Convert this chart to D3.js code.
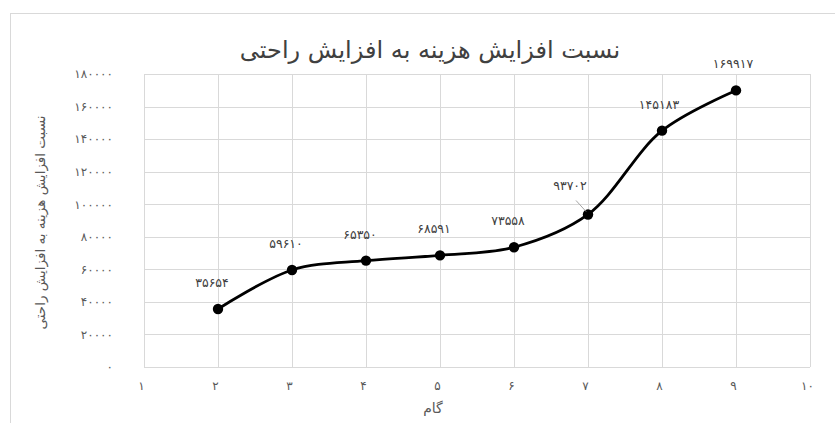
<!DOCTYPE html>
<html><head><meta charset="utf-8">
<script src="https://cdn.jsdelivr.net/npm/d3@7"></script>
<style>
html,body{margin:0;padding:0;background:#fff;}
svg{display:block;}
text{font-family:"DejaVu Sans",sans-serif;}
</style></head>
<body>
<svg id="c" width="835" height="423"></svg>
<script>
const titleText = "نسبت افزایش هزینه به افزایش راحتی";
const yAxisTitle = "نسبت افزایش هزینه به افزایش راحتی";
const xAxisTitle = "گام";
const steps = [2, 3, 4, 5, 6, 7, 8, 9];
const values = [35654, 59610, 65350, 68591, 73558, 93702, 145183, 169917];
const xTicks = [1, 2, 3, 4, 5, 6, 7, 8, 9, 10];
const yTicks = [0, 20000, 40000, 60000, 80000, 100000, 120000, 140000, 160000, 180000];

const fa = n => String(n).replace(/\d/g, d => "۰۱۲۳۴۵۶۷۸۹"[+d]);

const svg = d3.select("#c");
const W = 835, H = 423;
const m = {left: 144, right: 25, top: 74, bottom: 56};
const x = d3.scaleLinear().domain([1, 10]).range([m.left, W - m.right]);
const y = d3.scaleLinear().domain([0, 180000]).range([H - m.bottom, m.top]);

// outer chart border
svg.append("rect").attr("x", 10.5).attr("y", 13.5).attr("width", 840).attr("height", 430)
  .attr("fill", "none").attr("stroke", "#d9d9d9");

const grid = svg.append("g");
grid.selectAll("line.h").data(yTicks).join("line")
  .attr("x1", x(1)).attr("x2", x(10))
  .attr("y1", d => Math.round(y(d)) + 0.5).attr("y2", d => Math.round(y(d)) + 0.5)
  .attr("stroke", "#d9d9d9").attr("stroke-width", 1);
grid.selectAll("line.v").data(xTicks).join("line")
  .attr("y1", y(0)).attr("y2", y(180000))
  .attr("x1", d => Math.round(x(d)) + 0.5).attr("x2", d => Math.round(x(d)) + 0.5)
  .attr("stroke", "#d9d9d9").attr("stroke-width", 1);

// axes labels
const yAxis = d3.axisLeft(y).tickValues(yTicks).tickFormat(fa).tickSize(0).tickPadding(31);
svg.append("g").attr("transform", `translate(${m.left},0)`).call(yAxis)
  .call(g => g.select(".domain").remove())
  .selectAll("text").attr("fill", "#595959").style("font-size", "12px")
  .style("letter-spacing", "2px").style("font-family", "DejaVu Sans");

const xAxis = d3.axisBottom(x).tickValues(xTicks).tickFormat(fa).tickSize(0).tickPadding(14);
svg.append("g").attr("transform", `translate(-3,${H - m.bottom})`).call(xAxis)
  .call(g => g.select(".domain").remove())
  .selectAll("text").attr("fill", "#595959").style("font-size", "12px")
  .style("letter-spacing", "2px").style("font-family", "DejaVu Sans");

// titles
svg.append("text").attr("x", 430).attr("y", 58).attr("text-anchor", "middle")
  .attr("fill", "#404040").style("font-size", "24px").text(titleText);
svg.append("text").attr("transform", `translate(45,${(y(0) + y(180000)) / 2 + 2}) rotate(-90)`)
  .attr("text-anchor", "middle").attr("fill", "#595959").style("font-size", "13.5px").text(yAxisTitle);
svg.append("text").attr("x", 433).attr("y", 413).attr("text-anchor", "middle")
  .attr("fill", "#595959").style("font-size", "14px").text(xAxisTitle);

// line
const pts = steps.map((s, i) => [x(s), y(values[i])]);
svg.append("path").datum(pts)
  .attr("d", d3.line().curve(d3.curveCatmullRom.alpha(0.5)))
  .attr("fill", "none").attr("stroke", "#000").attr("stroke-width", 2.8);

svg.selectAll("circle.p").data(pts).join("circle")
  .attr("cx", d => d[0]).attr("cy", d => d[1]).attr("r", 5.2).attr("fill", "#000");

// data labels
const lblDx = i => (i < 5 ? -6 : i === 5 ? -18 : -3);
const lblDy = i => (i === 5 ? -24 : -22);
svg.selectAll("text.lbl").data(pts).join("text")
  .attr("x", (d, i) => d[0] + lblDx(i)).attr("y", (d, i) => d[1] + lblDy(i))
  .attr("text-anchor", "middle").attr("fill", "#404040").style("font-size", "12.5px")
  .style("letter-spacing", "2px")
  .text((d, i) => fa(values[i]));

// leader line for label of step 7
const p7 = pts[5];
svg.append("line").attr("x1", p7[0] - 12).attr("y1", p7[1] - 14).attr("x2", p7[0] - 2).attr("y2", p7[1] - 3)
  .attr("stroke", "#a6a6a6").attr("stroke-width", 1);
</script>
</body></html>
